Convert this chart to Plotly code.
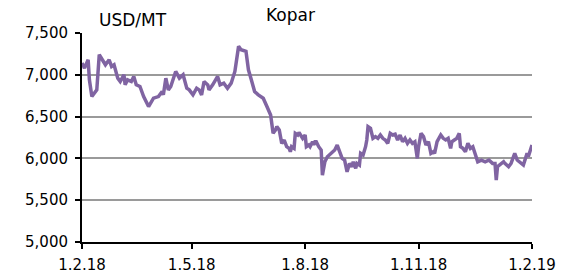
import plotly.graph_objects as go

dates = [
    "2018-02-01", "2018-02-03", "2018-02-06", "2018-02-07", "2018-02-09", "2018-02-13",
    "2018-02-15", "2018-02-18", "2018-02-20", "2018-02-23", "2018-02-25", "2018-02-27",
    "2018-03-02", "2018-03-04", "2018-03-07", "2018-03-08", "2018-03-10", "2018-03-13",
    "2018-03-15", "2018-03-17", "2018-03-20", "2018-03-23", "2018-03-27", "2018-03-31",
    "2018-04-04", "2018-04-07", "2018-04-08", "2018-04-10", "2018-04-12", "2018-04-14",
    "2018-04-18", "2018-04-21", "2018-04-24", "2018-04-27", "2018-04-29", "2018-05-02",
    "2018-05-05", "2018-05-07", "2018-05-09", "2018-05-11", "2018-05-14", "2018-05-15",
    "2018-05-18", "2018-05-22", "2018-05-24", "2018-05-27", "2018-05-30", "2018-06-02",
    "2018-06-05", "2018-06-08", "2018-06-10", "2018-06-14", "2018-06-16", "2018-06-18",
    "2018-06-21", "2018-06-24", "2018-06-28", "2018-07-01", "2018-07-04", "2018-07-06",
    "2018-07-08", "2018-07-09", "2018-07-11", "2018-07-12", "2018-07-13", "2018-07-15",
    "2018-07-16", "2018-07-17", "2018-07-19", "2018-07-20", "2018-07-21", "2018-07-23",
    "2018-07-24", "2018-07-26", "2018-07-27", "2018-07-29", "2018-07-30", "2018-08-01",
    "2018-08-02", "2018-08-04", "2018-08-05", "2018-08-07", "2018-08-08", "2018-08-09",
    "2018-08-10", "2018-08-12", "2018-08-14", "2018-08-15", "2018-08-17", "2018-08-19",
    "2018-08-22", "2018-08-25", "2018-08-27", "2018-08-29", "2018-08-31", "2018-09-02",
    "2018-09-04", "2018-09-06", "2018-09-08", "2018-09-09", "2018-09-11", "2018-09-12",
    "2018-09-14", "2018-09-15", "2018-09-17", "2018-09-19", "2018-09-20", "2018-09-21",
    "2018-09-23", "2018-09-25", "2018-09-27", "2018-09-29", "2018-10-01", "2018-10-03",
    "2018-10-05", "2018-10-07", "2018-10-09", "2018-10-11", "2018-10-13", "2018-10-15",
    "2018-10-17", "2018-10-19", "2018-10-21", "2018-10-23", "2018-10-25", "2018-10-27",
    "2018-10-29", "2018-10-31", "2018-11-01", "2018-11-03", "2018-11-05", "2018-11-07",
    "2018-11-09", "2018-11-11", "2018-11-13", "2018-11-14", "2018-11-16", "2018-11-19",
    "2018-11-21", "2018-11-23", "2018-11-25", "2018-11-27", "2018-11-28", "2018-11-30",
    "2018-12-02", "2018-12-04", "2018-12-05", "2018-12-07", "2018-12-09", "2018-12-11",
    "2018-12-13", "2018-12-15", "2018-12-17", "2018-12-19", "2018-12-22", "2018-12-25",
    "2018-12-28", "2018-12-31", "2019-01-02", "2019-01-03", "2019-01-04", "2019-01-06",
    "2019-01-09", "2019-01-10", "2019-01-13", "2019-01-15", "2019-01-18", "2019-01-20",
    "2019-01-22", "2019-01-25", "2019-01-28", "2019-01-29", "2019-02-01",
]

prices = [
    7140, 7080, 7180, 6940, 6740, 6820,
    7240, 7160, 7120, 7180, 7100, 7120,
    6960, 6920, 7000, 6880, 6940, 6920,
    6980, 6880, 6860, 6740, 6620, 6720,
    6740, 6800, 6760, 6960, 6820, 6860,
    7040, 6960, 7000, 6840, 6820, 6760,
    6840, 6820, 6760, 6920, 6880, 6820,
    6880, 6980, 6880, 6900, 6840, 6900,
    7040, 7340, 7300, 7280, 7060, 6960,
    6800, 6760, 6720, 6620, 6520, 6300,
    6340, 6380, 6340, 6260, 6180, 6220,
    6160, 6140, 6120, 6080, 6140, 6120,
    6300, 6280, 6310, 6260, 6240, 6280,
    6140, 6160, 6140, 6200, 6160, 6200,
    6200, 6140, 6100, 5800, 5960, 6020,
    6060, 6100, 6160, 6080, 6000, 5980,
    5840, 5940, 5900, 5960, 5880, 5940,
    5920, 6060, 6040, 6140, 6220, 6380,
    6360, 6240, 6260, 6240, 6280, 6240,
    6220, 6180, 6300, 6280, 6290, 6220,
    6280, 6200, 6240, 6180, 6220, 6180,
    6200, 6000, 6140, 6300, 6260, 6160,
    6200, 6060, 6080, 6060, 6200, 6280,
    6240, 6220, 6240, 6120, 6200, 6220,
    6240, 6300, 6140, 6120, 6080, 6180,
    6120, 6140, 6060, 5960, 5980, 5960,
    5980, 5940, 5940, 5740, 5900, 5920,
    5960, 5940, 5900, 5940, 6060, 5980,
    5960, 5920, 6060, 6020, 6160,
]

x_tick_vals = ["2018-02-01", "2018-05-01", "2018-08-01", "2018-11-01", "2019-02-01"]
x_tick_text = ["1.2.18", "1.5.18", "1.8.18", "1.11.18", "1.2.19"]
y_tick_vals = [5000, 5500, 6000, 6500, 7000, 7500]
y_tick_text = ["5,000", "5,500", "6,000", "6,500", "7,000", "7,500"]

title_text = "Kopar"
unit_text = "USD/MT"

FONT = "DejaVu Sans"

fig = go.Figure()
fig.add_trace(go.Scatter(
    x=dates, y=prices, mode="lines",
    line=dict(color="#8064A2", width=3.5),
    hoverinfo="x+y",
))

fig.update_layout(
    width=562, height=279,
    margin=dict(l=82, r=30, t=33, b=37),
    paper_bgcolor="white", plot_bgcolor="white",
    showlegend=False,
    font=dict(family=FONT, size=15, color="black"),
    xaxis=dict(
        type="date",
        range=["2018-02-01", "2019-02-01"],
        tickmode="array", tickvals=x_tick_vals, ticktext=x_tick_text,
        showgrid=False, zeroline=False,
        showline=True, linecolor="black", linewidth=2,
        ticks="outside", ticklen=5, tickwidth=2, tickcolor="black",
        tickfont=dict(family=FONT, size=15),
        ticklabelstandoff=3,
        automargin=False,
    ),
    yaxis=dict(
        range=[5000, 7500],
        tickmode="array", tickvals=y_tick_vals, ticktext=y_tick_text,
        showgrid=True, gridcolor="#9a9a9a", gridwidth=1.5,
        zeroline=False,
        showline=True, linecolor="black", linewidth=2,
        ticks="outside", ticklen=5, tickwidth=2, tickcolor="black",
        tickfont=dict(family=FONT, size=15),
        ticklabelstandoff=4,
        automargin=False,
    ),
    annotations=[
        dict(text=title_text, xref="paper", yref="paper", x=0.464, y=1.086,
             xanchor="center", yanchor="middle", showarrow=False,
             font=dict(family=FONT, size=17, color="black")),
        dict(text=unit_text, xref="paper", yref="paper", x=0.113, y=1.062,
             xanchor="center", yanchor="middle", showarrow=False,
             font=dict(family=FONT, size=17, color="black")),
    ],
)

fig.write_html(
    "out.html",
    config={"displayModeBar": False},
    post_script="document.body.style.margin='0px';document.body.style.overflow='hidden';",
)
